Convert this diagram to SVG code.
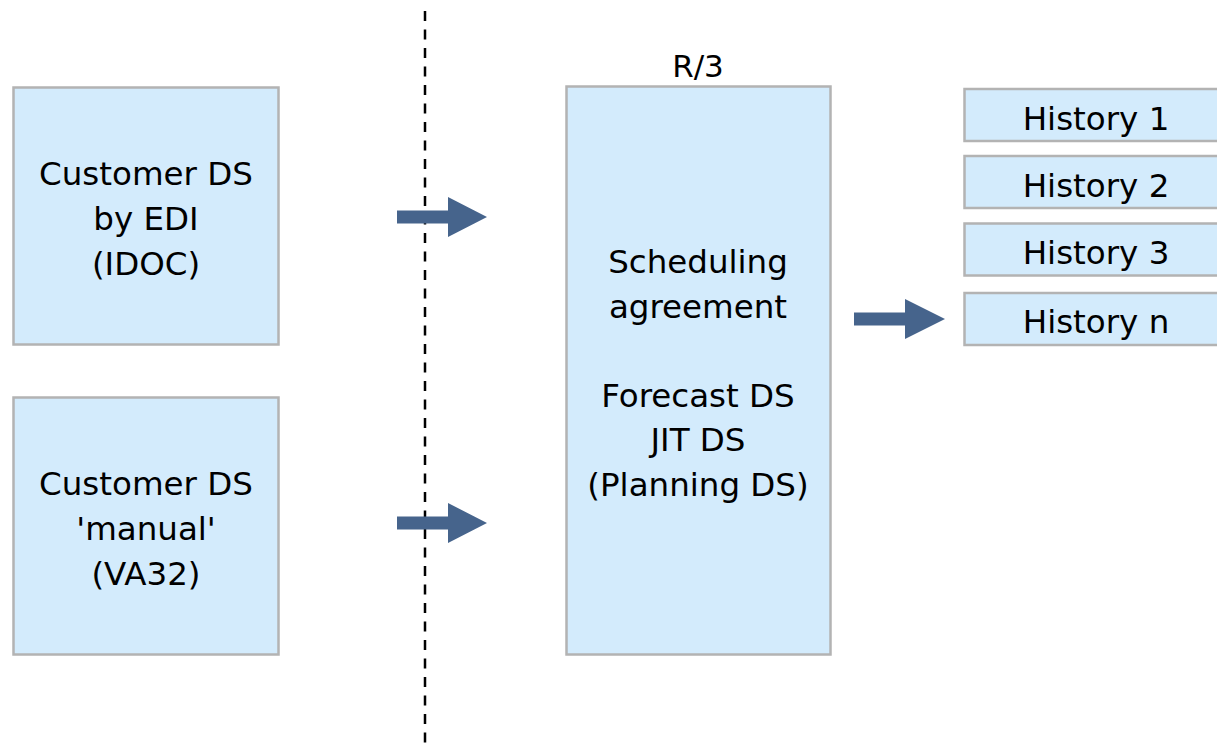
<svg xmlns="http://www.w3.org/2000/svg" width="1217" height="747" viewBox="0 0 1217 747">
<defs>
<style>
.box{fill:#D3EBFC;stroke:#B3B3B3;stroke-width:2.5}
.t{font-family:"DejaVu Sans",Verdana,sans-serif;font-size:32.5px;fill:#000;text-anchor:middle}
.arr{fill:#46648C}
</style>
</defs>
<rect width="1217" height="747" fill="#fff"/>
<line x1="425" y1="11" x2="425" y2="747" stroke="#000" stroke-width="2.5" stroke-dasharray="10,8.5"/>
<g id="edi">
<rect class="box" x="13.5" y="87.5" width="265" height="257"/>
<text class="t" x="146" y="185">Customer DS</text>
<text class="t" x="146" y="230">by EDI</text>
<text class="t" x="146" y="275">(IDOC)</text>
</g>
<g id="manual">
<rect class="box" x="13.5" y="397.5" width="265" height="257"/>
<text class="t" x="146" y="495">Customer DS</text>
<text class="t" x="146" y="540">'manual'</text>
<text class="t" x="146" y="585">(VA32)</text>
</g>
<g id="r3">
<text class="t" x="698" y="77" style="font-size:31px">R/3</text>
<rect class="box" x="566.5" y="86.5" width="264" height="568"/>
<text class="t" x="698" y="273">Scheduling</text>
<text class="t" x="698" y="318">agreement</text>
<text class="t" x="698" y="407">Forecast DS</text>
<text class="t" x="698" y="451">JIT DS</text>
<text class="t" x="698" y="496">(Planning DS)</text>
</g>
<g id="h1">
<rect class="box" x="964.5" y="89" width="264" height="52"/>
<text class="t" x="1096" y="130">History 1</text>
</g>
<g id="h2">
<rect class="box" x="964.5" y="156" width="264" height="52"/>
<text class="t" x="1096" y="197">History 2</text>
</g>
<g id="h3">
<rect class="box" x="964.5" y="223.5" width="264" height="52"/>
<text class="t" x="1096" y="264">History 3</text>
</g>
<g id="hn">
<rect class="box" x="964.5" y="293" width="264" height="52"/>
<text class="t" x="1096" y="333">History n</text>
</g>
<g id="connectors">
<polygon class="arr" points="397,210.5 448,210.5 448,197 487,217 448,237 448,223.5 397,223.5"/>
<polygon class="arr" points="397,516.5 448,516.5 448,503 487,523 448,543 448,529.5 397,529.5"/>
<polygon class="arr" points="854,312.5 905,312.5 905,299 945,319 905,339 905,325.5 854,325.5"/>
</g>
</svg>
